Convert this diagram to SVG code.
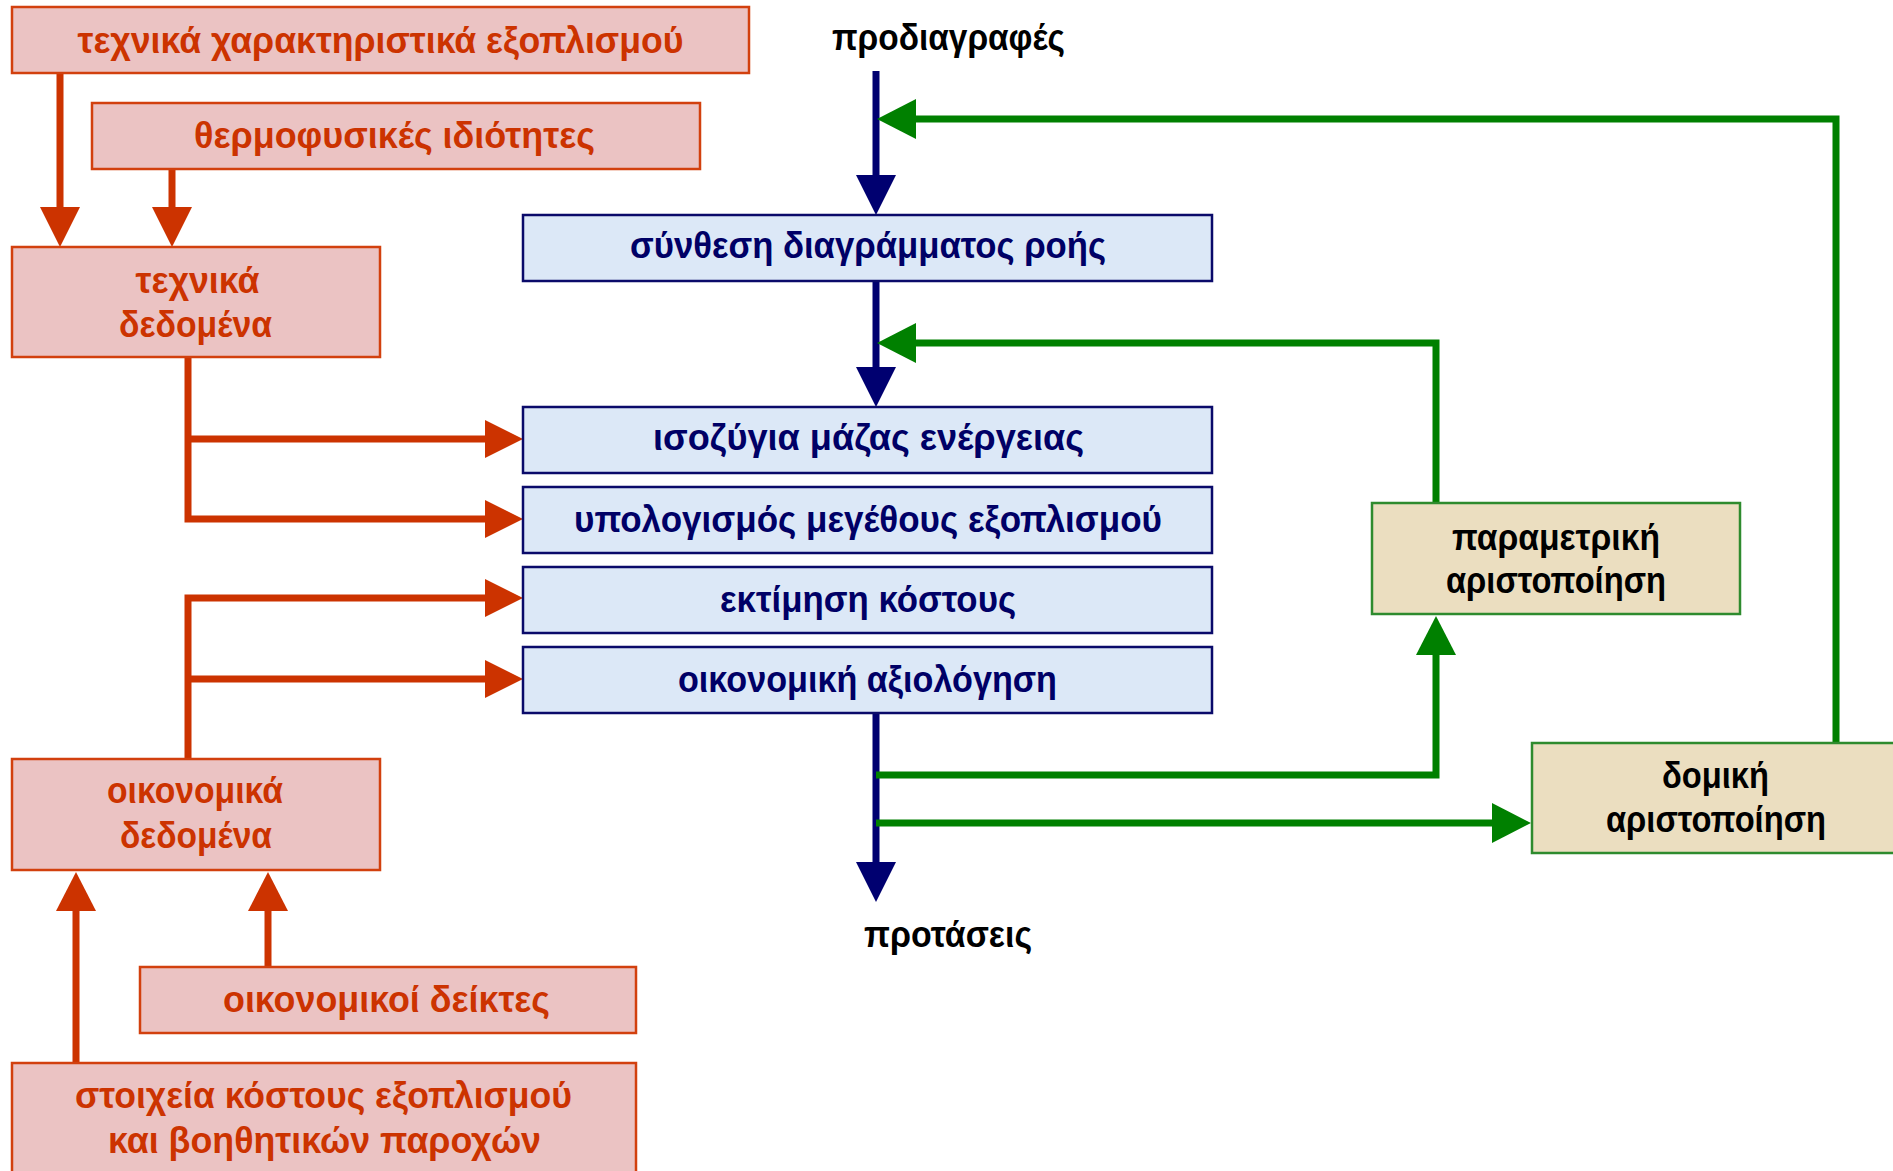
<svg xmlns="http://www.w3.org/2000/svg" width="1893" height="1171" viewBox="0 0 1893 1171">
<defs>
<style>
.bg{fill:#ffffff}
.pk{fill:#ebc3c3;stroke:#d2400e;stroke-width:2.5}
.bl{fill:#dce8f7;stroke:#0a0a6a;stroke-width:2.5}
.bg2{fill:#ebdec0;stroke:#2e8b2e;stroke-width:2.5}
text{font-family:"Liberation Sans","DejaVu Sans",sans-serif;font-weight:bold;font-size:36px;text-anchor:middle}
.tr{fill:#cc3300}
.tn{fill:#000066}
.tk{fill:#000000}
.lo{stroke:#cc3300;stroke-width:7;fill:none}
.ln{stroke:#000070;stroke-width:7;fill:none}
.lg{stroke:#008000;stroke-width:7;fill:none}
.ho{fill:#cc3300}
.hn{fill:#000070}
.hg{fill:#008000}
</style>
</defs>
<rect class="bg" x="0" y="0" width="1893" height="1171"/>

<g id="connectors">
  <!-- orange -->
  <line class="lo" x1="60" y1="73" x2="60" y2="209"/>
  <polygon class="ho" points="40,207 80,207 60,247"/>
  <line class="lo" x1="172" y1="169" x2="172" y2="209"/>
  <polygon class="ho" points="152,207 192,207 172,247"/>
  <path class="lo" d="M188,357 V519 H487"/>
  <line class="lo" x1="188" y1="439" x2="487" y2="439"/>
  <polygon class="ho" points="485,420 485,458 523,439"/>
  <polygon class="ho" points="485,500 485,538 523,519"/>
  <path class="lo" d="M188,759 V598 H487"/>
  <line class="lo" x1="188" y1="679" x2="487" y2="679"/>
  <polygon class="ho" points="485,579 485,617 523,598"/>
  <polygon class="ho" points="485,660 485,698 523,679"/>
  <line class="lo" x1="268" y1="967" x2="268" y2="909"/>
  <polygon class="ho" points="248,911 288,911 268,872"/>
  <line class="lo" x1="76" y1="1063" x2="76" y2="909"/>
  <polygon class="ho" points="56,911 96,911 76,872"/>
  <!-- navy -->
  <line class="ln" x1="876" y1="71" x2="876" y2="177"/>
  <polygon class="hn" points="856,175 896,175 876,215"/>
  <line class="ln" x1="876" y1="281" x2="876" y2="369"/>
  <polygon class="hn" points="856,367 896,367 876,407"/>
  <line class="ln" x1="876" y1="713" x2="876" y2="864"/>
  <polygon class="hn" points="856,862 896,862 876,902"/>
  <!-- green -->
  <path class="lg" d="M1836,743 V119 H914"/>
  <polygon class="hg" points="916,99 916,139 877,119"/>
  <path class="lg" d="M1436,503 V343 H914"/>
  <polygon class="hg" points="916,323 916,363 877,343"/>
  <path class="lg" d="M876,775 H1436 V653"/>
  <polygon class="hg" points="1416,655 1456,655 1436,616"/>
  <line class="lg" x1="876" y1="823" x2="1494" y2="823"/>
  <polygon class="hg" points="1492,803 1492,843 1531,823"/>
</g>

<g id="n_techchar">
  <rect class="pk" x="12" y="7" width="737" height="66"/>
  <text class="tr" x="380.5" y="53" textLength="606" lengthAdjust="spacingAndGlyphs">τεχνικά χαρακτηριστικά εξοπλισμού</text>
</g>
<g id="n_thermo">
  <rect class="pk" x="92" y="103" width="608" height="66"/>
  <text class="tr" x="394.5" y="148" textLength="401" lengthAdjust="spacingAndGlyphs">θερμοφυσικές ιδιότητες</text>
</g>
<g id="n_techdata">
  <rect class="pk" x="12" y="247" width="368" height="110"/>
  <text class="tr" x="197.5" y="293" textLength="124" lengthAdjust="spacingAndGlyphs">τεχνικά</text>
  <text class="tr" x="195.5" y="337" textLength="153" lengthAdjust="spacingAndGlyphs">δεδομένα</text>
</g>
<g id="n_econdata">
  <rect class="pk" x="12" y="759" width="368" height="111"/>
  <text class="tr" x="195" y="803" textLength="176" lengthAdjust="spacingAndGlyphs">οικονομικά</text>
  <text class="tr" x="196" y="848" textLength="152" lengthAdjust="spacingAndGlyphs">δεδομένα</text>
</g>
<g id="n_econind">
  <rect class="pk" x="140" y="967" width="496" height="66"/>
  <text class="tr" x="386.5" y="1012" textLength="327" lengthAdjust="spacingAndGlyphs">οικονομικοί δείκτες</text>
</g>
<g id="n_costdata">
  <rect class="pk" x="12" y="1063" width="624" height="116"/>
  <text class="tr" x="323.5" y="1108" textLength="497" lengthAdjust="spacingAndGlyphs">στοιχεία κόστους εξοπλισμού</text>
  <text class="tr" x="324.5" y="1153" textLength="433" lengthAdjust="spacingAndGlyphs">και βοηθητικών παροχών</text>
</g>

<g id="n_specs">
  <text class="tk" x="948.5" y="50" textLength="233" lengthAdjust="spacingAndGlyphs">προδιαγραφές</text>
</g>
<g id="n_synth">
  <rect class="bl" x="523" y="215" width="689" height="66"/>
  <text class="tn" x="868" y="258" textLength="476" lengthAdjust="spacingAndGlyphs">σύνθεση διαγράμματος ροής</text>
</g>
<g id="n_balance">
  <rect class="bl" x="523" y="407" width="689" height="66"/>
  <text class="tn" x="868.5" y="450" textLength="431" lengthAdjust="spacingAndGlyphs">ισοζύγια μάζας ενέργειας</text>
</g>
<g id="n_sizing">
  <rect class="bl" x="523" y="487" width="689" height="66"/>
  <text class="tn" x="868" y="532" textLength="588" lengthAdjust="spacingAndGlyphs">υπολογισμός μεγέθους εξοπλισμού</text>
</g>
<g id="n_cost">
  <rect class="bl" x="523" y="567" width="689" height="66"/>
  <text class="tn" x="868" y="612" textLength="296" lengthAdjust="spacingAndGlyphs">εκτίμηση κόστους</text>
</g>
<g id="n_econeval">
  <rect class="bl" x="523" y="647" width="689" height="66"/>
  <text class="tn" x="867.5" y="692" textLength="379" lengthAdjust="spacingAndGlyphs">οικονομική αξιολόγηση</text>
</g>
<g id="n_proposals">
  <text class="tk" x="948" y="947" textLength="168" lengthAdjust="spacingAndGlyphs">προτάσεις</text>
</g>

<g id="n_paramopt">
  <rect class="bg2" x="1372" y="503" width="368" height="111"/>
  <text class="tk" x="1556" y="550" textLength="208" lengthAdjust="spacingAndGlyphs">παραμετρική</text>
  <text class="tk" x="1556" y="593" textLength="220" lengthAdjust="spacingAndGlyphs">αριστοποίηση</text>
</g>
<g id="n_structopt">
  <rect class="bg2" x="1532" y="743" width="370" height="110"/>
  <text class="tk" x="1715.5" y="788" textLength="107" lengthAdjust="spacingAndGlyphs">δομική</text>
  <text class="tk" x="1716" y="832" textLength="220" lengthAdjust="spacingAndGlyphs">αριστοποίηση</text>
</g>
</svg>
